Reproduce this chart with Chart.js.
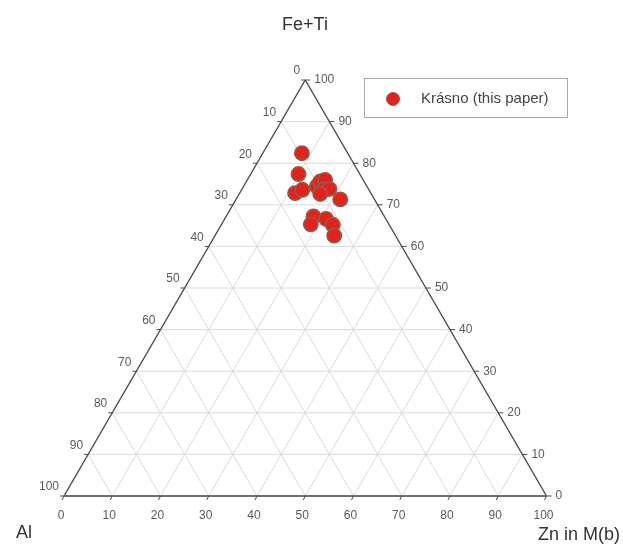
<!DOCTYPE html>
<html>
<head>
<meta charset="utf-8">
<script src="https://cdn.jsdelivr.net/npm/chart.js@4"></script>
<style>
    html, body { margin: 0; padding: 0; background: #fff; }
    #wrap { width: 623px; height: 545px; position: relative; }
</style>
</head>
<body>
<div id="wrap"><canvas id="ternary"></canvas></div>
<script>
// ── Datos ────────────────────────────────────────────────────────
const seriesLabel = 'Krásno (this paper)';
const feTi = [82.4, 77.4, 72.8, 73.6, 74.4, 75.6, 76.0, 73.6, 73.8, 72.6, 71.3, 67.2, 65.3, 66.6, 65.2, 62.6];
const zn   = [ 8.1,  9.9, 11.5, 12.6, 15.2, 15.3, 16.1, 16.9, 18.1, 16.8, 21.6, 18.1, 18.5, 21.0, 23.1, 24.7];
const al   = [ 9.5, 12.7, 15.7, 13.8, 10.4,  9.1,  7.9,  9.5,  8.1, 10.6,  7.1, 14.7, 16.2, 12.4, 11.7, 12.7];
const tickValues = [0, 10, 20, 30, 40, 50, 60, 70, 80, 90, 100];
const apexTitles = { top: 'Fe+Ti', left: 'Al', right: 'Zn in M(b)' };

// ── Proyección ternaria -> cartesiana (x: 0..100, y: 0..86.6) ────
const _h = Math.sqrt(3) / 2;
function _toXY(f, z) {
    return { x: z + f / 2, y: f * _h };
}

// ── Plugin: rejilla, bordes, marcas y etiquetas ──────────────────
const ternaryFrame = {
    id: 'ternaryFrame',
    beforeDatasetsDraw(chart) {
        const ctx = chart.ctx;
        const sx = chart.scales.x, sy = chart.scales.y;
        const P = (f, z) => {
            const p = _toXY(f, z);
            return [sx.getPixelForValue(p.x), sy.getPixelForValue(p.y)];
        };
        const line = (a, b) => {
            ctx.beginPath();
            ctx.moveTo(a[0], a[1]);
            ctx.lineTo(b[0], b[1]);
            ctx.stroke();
        };

        ctx.save();
        // rejilla gris
        ctx.strokeStyle = '#dadada';
        ctx.lineWidth = 1;
        tickValues.slice(1, -1).forEach(v => {
            line(P(v, 0), P(v, 100 - v));          // Fe+Ti constante
            line(P(0, v), P(100 - v, v));          // Zn constante
            line(P(0, 100 - v), P(100 - v, 0));    // Al constante
        });

        // bordes del triángulo
        ctx.strokeStyle = '#4a4a4a';
        ctx.lineWidth = 1.4;
        line(P(0, 0), P(100, 0));
        line(P(100, 0), P(0, 100));
        ctx.strokeStyle = '#707070';
        ctx.lineWidth = 2;
        line(P(0, 0), P(0, 100));

        // marcas
        ctx.strokeStyle = '#4a4a4a';
        ctx.lineWidth = 1;
        tickValues.forEach(v => {
            let p = P(0, v);
            line(p, [p[0] - 2, p[1] + 4]);
            p = P(100 - v, 0);
            line(p, [p[0] - 4, p[1]]);
            p = P(v, 100 - v);
            line(p, [p[0] + 5, p[1]]);
        });

        // etiquetas de marcas
        ctx.fillStyle = '#5a5a5a';
        ctx.font = '12px "Liberation Sans", Arial, sans-serif';
        tickValues.forEach(v => {
            let p = P(0, v);
            ctx.textAlign = 'center';
            ctx.textBaseline = 'middle';
            ctx.fillText(String(v), p[0] - 3, p[1] + 20);

            p = P(100 - v, 0);
            ctx.textAlign = 'right';
            ctx.fillText(String(v), p[0] - 5, p[1] - 9);

            p = P(v, 100 - v);
            ctx.textAlign = 'left';
            ctx.fillText(String(v), p[0] + 9, p[1]);
        });

        // títulos de los vértices
        ctx.fillStyle = '#333';
        ctx.font = '18px "Liberation Sans", Arial, sans-serif';
        ctx.textBaseline = 'middle';
        ctx.textAlign = 'center';
        ctx.fillText(apexTitles.top, 305, 25);
        ctx.textAlign = 'left';
        ctx.fillText(apexTitles.left, 16, 533);
        ctx.textAlign = 'right';
        ctx.fillText(apexTitles.right, 620, 535);
        ctx.restore();
    },
    afterDraw(chart) {
        // leyenda con recuadro
        const ctx = chart.ctx;
        const ds = chart.data.datasets[0];
        ctx.save();
        ctx.strokeStyle = '#a8a8a8';
        ctx.lineWidth = 1;
        ctx.strokeRect(364.5, 78.5, 203, 39);
        ctx.beginPath();
        ctx.arc(393, 99, 6.5, 0, Math.PI * 2);
        ctx.fillStyle = ds.backgroundColor;
        ctx.fill();
        ctx.strokeStyle = ds.borderColor;
        ctx.stroke();
        ctx.fillStyle = '#444';
        ctx.font = '15px "Liberation Sans", Arial, sans-serif';
        ctx.textAlign = 'left';
        ctx.textBaseline = 'middle';
        ctx.fillText(ds.label, 421, 99);
        ctx.restore();
    }
};

// ── Gráfico ──────────────────────────────────────────────────────
const points = feTi.map((f, i) => _toXY(f, zn[i]));

new Chart(document.getElementById('ternary').getContext('2d'), {
    type: 'scatter',
    data: {
        datasets: [{
            label: seriesLabel,
            data: points,
            backgroundColor: '#e4221b',
            borderColor: '#8c5f4c',
            borderWidth: 1.5,
            pointRadius: 7.2,
            pointHoverRadius: 7.2,
            clip: false
        }]
    },
    options: {
        responsive: true,
        maintainAspectRatio: false,
        animation: false,
        layout: { padding: { left: 64, right: 76.5, top: 80, bottom: 49 } },
        scales: {
            x: { type: 'linear', min: 0, max: 100, display: false },
            y: { type: 'linear', min: 0, max: 100 * _h, display: false }
        },
        plugins: {
            legend: { display: false },
            tooltip: { enabled: false }
        }
    },
    plugins: [ternaryFrame]
});
</script>
</body>
</html>
